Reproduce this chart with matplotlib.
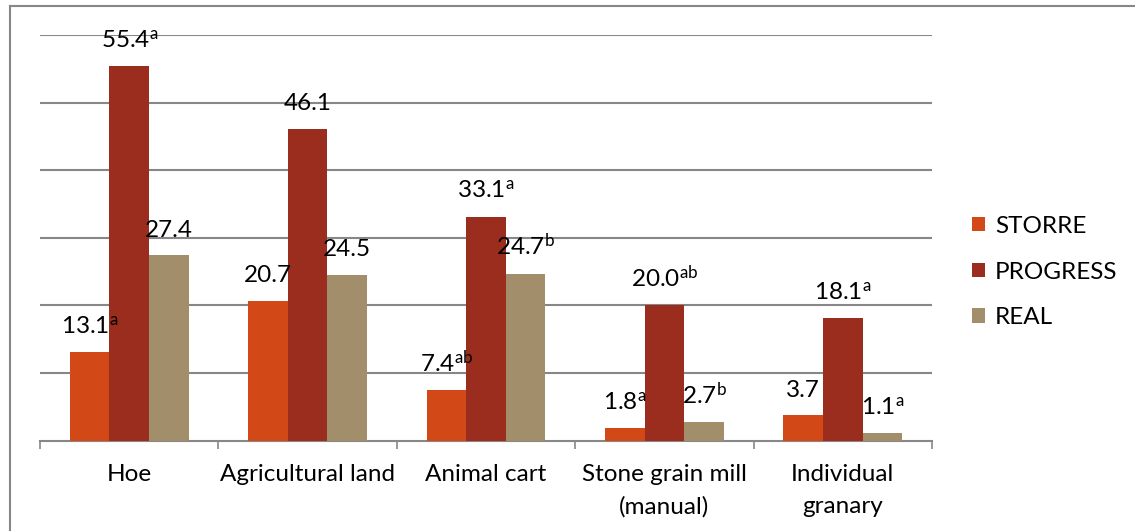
import matplotlib
matplotlib.use("Agg")
import matplotlib.pyplot as plt
import numpy as np
from matplotlib.patches import Patch
from matplotlib.lines import Line2D

plt.rcParams['font.family'] = ['Lato', 'DejaVu Sans']
plt.rcParams['mathtext.fontset'] = 'custom'
plt.rcParams['mathtext.rm'] = 'Lato'
plt.rcParams['mathtext.it'] = 'Lato'
plt.rcParams['mathtext.bf'] = 'Lato'

categories = ["Hoe", "Agricultural land", "Animal cart",
              "Stone grain mill\n(manual)", "Individual\ngranary"]
series_names = ["STORRE", "PROGRESS", "REAL"]
storre = [13.1, 20.7, 7.4, 1.8, 3.7]
progress = [55.4, 46.1, 33.1, 20.0, 18.1]
real = [27.4, 24.5, 24.7, 2.7, 1.1]
storre_sup = ["a", "", "ab", "a", ""]
progress_sup = ["a", "", "a", "ab", "a"]
real_sup = ["", "", "b", "b", "a"]

colors = ["#D34817", "#9B2D1F", "#A28E6A"]
grid_color = "#878787"
fs = 17.5

fig = plt.figure(figsize=(11.35, 5.31), dpi=100)
ax = fig.add_axes([40 / 1135, 1 - 440.5 / 531, 892 / 1135, 405.5 / 531])

x = np.arange(len(categories))
width = 1 / 4.5
series = [storre, progress, real]
sups = [storre_sup, progress_sup, real_sup]

for i, (vals, col, name) in enumerate(zip(series, colors, series_names)):
    ax.bar(x + (i - 1) * width, vals, width=width, color=col, label=name, zorder=3)

# value labels with significance letters, on top of all bars
for i, (vals, sup) in enumerate(zip(series, sups)):
    pos = x + (i - 1) * width
    for xp, v, s in zip(pos, vals, sup):
        txt = f"{v:.1f}" + (r"$^{\mathrm{" + s + r"}}$" if s else "")
        ax.annotate(txt, (xp, v), xytext=(0, 13.5), textcoords="offset points",
                    ha="center", va="baseline", fontsize=fs, color="black",
                    zorder=10)

ax.set_xlim(-0.5, len(categories) - 0.5)
ax.set_ylim(0, 60)
ax.set_yticks(np.arange(10, 61, 10))
ax.yaxis.grid(True, color=grid_color, linewidth=1.5, zorder=0)
ax.tick_params(axis="y", left=False, labelleft=False)

for side in ["left", "right", "top"]:
    ax.spines[side].set_visible(False)
ax.spines["bottom"].set_color(grid_color)
ax.spines["bottom"].set_linewidth(1.5)

ax.set_xticks(x)
ax.set_xticklabels(categories, fontsize=fs, linespacing=1.62)
ax.tick_params(axis="x", which="major", length=0, pad=17)
ax.set_xticks(np.arange(-0.5, len(categories), 1.0), minor=True)
ax.tick_params(axis="x", which="minor", length=6, width=1.2, color=grid_color,
               direction="out")

handles = [Patch(facecolor=c) for c in colors]
fig.legend(handles, series_names, loc="center left",
           bbox_to_anchor=(962 / 1135, 1 - 272 / 531), frameon=False,
           fontsize=fs, handlelength=0.55, handleheight=0.55, handletextpad=0.4,
           labelspacing=1.02, borderaxespad=0)

# outer chart frame
fig.add_artist(Line2D([10 / 1135, 10 / 1135], [0, 1 - 6 / 531],
                      transform=fig.transFigure, color=grid_color, linewidth=1.5))
fig.add_artist(Line2D([10 / 1135, 1], [1 - 6 / 531, 1 - 6 / 531],
                      transform=fig.transFigure, color=grid_color, linewidth=1.5))

fig.savefig("out.png", dpi=100)
